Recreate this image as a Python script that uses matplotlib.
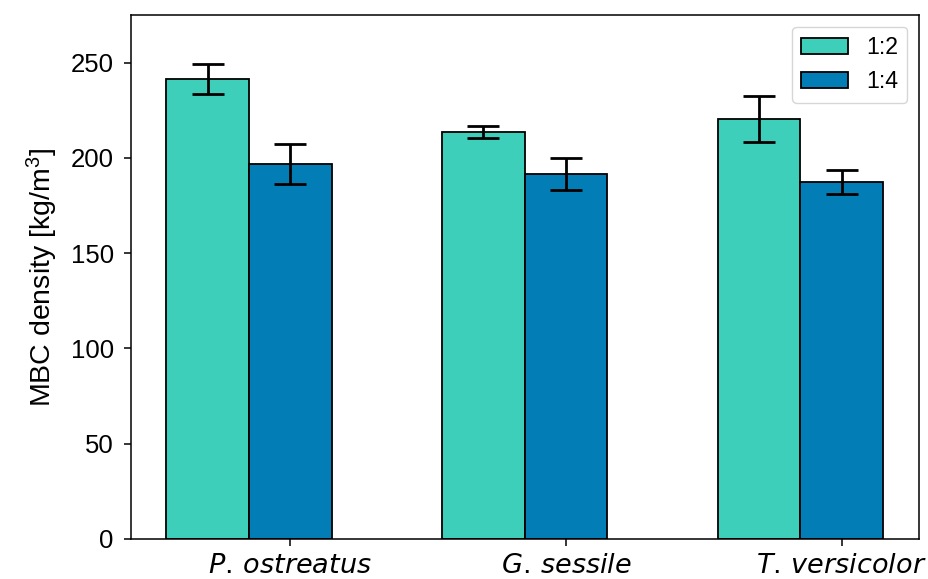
import numpy as np
import matplotlib
matplotlib.use('Agg')
import matplotlib.pyplot as plt

plt.rcParams['font.family'] = ['Liberation Sans', 'DejaVu Sans']
plt.rcParams['mathtext.fontset'] = 'custom'
plt.rcParams['mathtext.rm'] = 'Liberation Sans'
plt.rcParams['mathtext.it'] = 'Liberation Sans:italic'

species = [r'$P.\,ostreatus$', r'$G.\,sessile$', r'$T.\,versicolor$']
ratio_12 = [241.5, 213.8, 220.5]
err_12 = [8.0, 3.2, 12.2]
ratio_14 = [197.0, 191.5, 187.3]
err_14 = [10.5, 8.3, 6.5]

bar_width = 0.3
r1 = np.arange(len(species))
r2 = r1 + bar_width

fig = plt.figure(figsize=(9.29, 5.79), dpi=100)
ax = fig.add_axes([0.1405, 0.0691, 0.8487, 0.905])

ax.bar(r1, ratio_12, bar_width, color='#3ecfbb', edgecolor='black', linewidth=1.3,
       yerr=err_12, capsize=11.5, error_kw={'elinewidth': 2.0, 'capthick': 2.0}, label='1:2')
ax.bar(r2, ratio_14, bar_width, color='#027db5', edgecolor='black', linewidth=1.3,
       yerr=err_14, capsize=11.5, error_kw={'elinewidth': 2.0, 'capthick': 2.0}, label='1:4')

ax.set_xticks(r2)
ax.set_xticklabels(species, fontsize=19.5, math_fontfamily='dejavusans')
ax.set_ylim(0, 275)
ax.set_yticks([0, 50, 100, 150, 200, 250])
ax.tick_params(axis='y', labelsize=18.5, width=1.1, length=5, pad=7)
ax.tick_params(axis='x', width=1.1, length=5, pad=5)
for s in ax.spines.values():
    s.set_linewidth(1.1)

ax.set_ylabel('MBC density [kg/m$^3$]', fontsize=20.5, labelpad=8)
ax.legend(loc='upper right', fontsize=16.7)

fig.savefig('out.png', dpi=100)
